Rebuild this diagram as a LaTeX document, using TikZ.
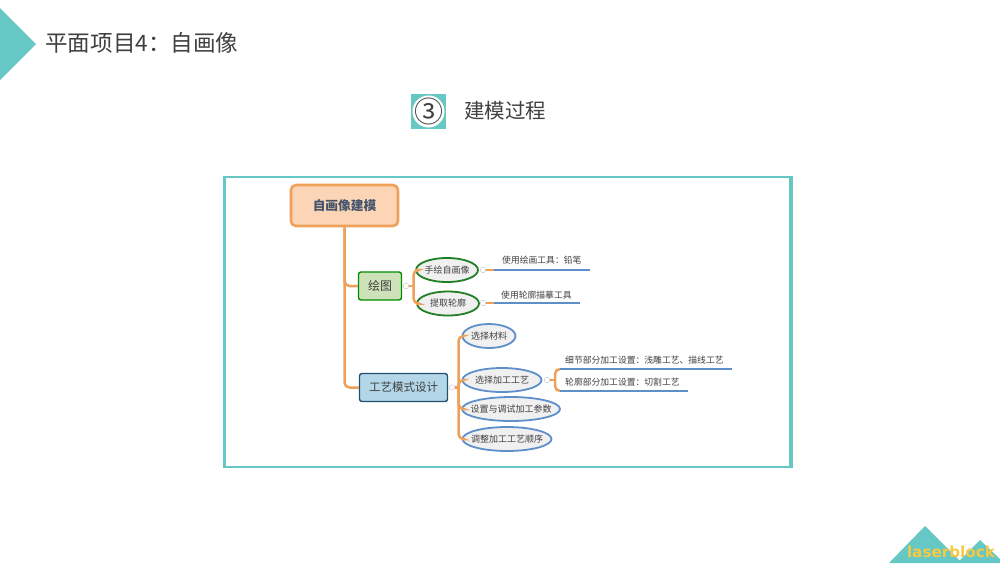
\documentclass[tikz,border=0pt]{standalone}
\usepackage{fontspec}
\setmainfont{Noto Sans CJK SC}
\newfontfamily\logofont{DejaVu Sans}
\usetikzlibrary{shapes.geometric}
\definecolor{tealc}{HTML}{66C8C4}
\definecolor{orangec}{HTML}{EFA05A}
\definecolor{bluec}{HTML}{5F8FCB}
\definecolor{greenc}{HTML}{1E7F24}
\definecolor{inkc}{HTML}{404040}
\definecolor{rootfill}{HTML}{FBD5B5}
\definecolor{rootink}{HTML}{44546A}
\definecolor{drawfill}{HTML}{CDE2B8}
\definecolor{craftfill}{HTML}{B3D7E8}
\definecolor{craftline}{HTML}{24506F}
\definecolor{logoc}{HTML}{F6C945}
\newcommand\ovaltext[1]{\makebox[0pt]{#1}}
\newcommand\widecolon{\symbol{"FF1A}}
\tikzset{
  mapbox/.style={draw,rounded corners=2.5pt,line width=1.4pt,text=inkc,inner sep=0pt},
  oval/.style={draw=bluec,ellipse,fill=black!6,line width=1.8pt,text=inkc,inner sep=0pt,minimum height=24pt,font=\fontsize{9}{9}\selectfont},
  greenoval/.style={oval,draw=greenc},
  leaf/.style={text=inkc,inner sep=0pt,anchor=west,font=\fontsize{8.8}{9}\selectfont},
  fold/.style={circle,draw=black!25,fill=white,line width=.4pt,inner sep=0pt,minimum size=5.5pt},
  branch/.style={orangec,line width=2.5pt,rounded corners=5pt},
  underline/.style={bluec,line width=2pt},
  heading/.style={text=inkc,inner sep=0pt}
}
\begin{document}
\begin{tikzpicture}[x=1pt,y=-1pt]
  \useasboundingbox[fill=white] (0,0) rectangle (1000,563);
  \fill[tealc] (0,8)--(36,44)--(0,80)--cycle;
  \node[heading,anchor=west,font=\fontsize{22.6}{24}\selectfont] (title) at (45,43) {平面项目4\widecolon 自画像};
  \fill[tealc] (411,94) rectangle (446,129);
  \fill[white] (428.5,111.5) circle (16);
  \node[heading,font=\fontsize{29}{29}\selectfont] (num) at (428.5,111) {③};
  \node[heading,anchor=west,font=\fontsize{20.5}{22}\selectfont] (stage) at (464,111) {建模过程};
  \draw[tealc,line width=2pt] (223.5,177) rectangle (791.5,466.5);
  \draw[tealc,line width=3.4pt] (224.5,176)--(224.5,467.5) (790.5,176)--(790.5,467.5);
  % main nodes
  \node[mapbox,draw=orangec,fill=rootfill,line width=2.6pt,rounded corners=5pt,minimum width=107pt,minimum height=41pt,text=rootink,font=\bfseries\fontsize{12.7}{13}\selectfont] (root) at (344.5,205.5) {自画像建模};
  \node[mapbox,draw=green!55!black,fill=drawfill,minimum width=43pt,minimum height=28pt,font=\fontsize{12}{12}\selectfont] (draw) at (380,286) {绘图};
  \node[mapbox,draw=craftline,fill=craftfill,minimum width=88pt,minimum height=28pt,font=\fontsize{11.5}{12}\selectfont] (craft) at (403.5,387.5) {工艺模式设计};
  \node[greenoval,minimum width=62pt] (hand) at (447,270) {\ovaltext{手绘自画像}};
  \node[greenoval,minimum width=62pt] (trace) at (448,303.5) {\ovaltext{提取轮廓}};
  \node[oval,minimum width=53pt] (material) at (489,336) {\ovaltext{选择材料}};
  \node[oval,minimum width=79pt] (process) at (502,380) {\ovaltext{选择加工工艺}};
  \node[oval,minimum width=98pt] (params) at (511,409) {\ovaltext{设置与调试加工参数}};
  \node[oval,minimum width=89pt] (order) at (507,439) {\ovaltext{调整加工工艺顺序}};
  \node[fold] (f1) at (406,286) {};
  \node[fold] (f2) at (483,270) {};
  \node[fold] (f3) at (483,303) {};
  \node[fold] (f4) at (452,387.5) {};
  \node[fold] (f5) at (547,380) {};
  % leaves
  \node[leaf] (tool) at (502,260.5) {使用绘画工具\widecolon 铅笔};
  \node[leaf] (outline) at (501,295) {使用轮廓描摹工具};
  \node[leaf] (detail) at (565,360.5) {细节部分加工设置\widecolon 浅雕工艺、描线工艺};
  \node[leaf] (contour) at (565,382) {轮廓部分加工设置\widecolon 切割工艺};
  \coordinate (j1) at (413.5,286);
  \coordinate (j2) at (458.5,387.5);
  \coordinate (j3) at (555,380);
  \coordinate (s2) at (494,270);
  \coordinate (s3) at (494,303);
  \coordinate (e2) at (590,270);
  \coordinate (e3) at (580,303);
  \coordinate (e5) at (732,369);
  \coordinate (e6) at (688,391);
  % connectors
  \draw[branch] (root.south) |- (draw.west);
  \draw[branch] (root.south) |- (craft.west);
  \draw[branch] (f1.east)--(j1) (f4.east)--(j2) (f5.east)--(j3);
  \draw[branch] (j1) |- (hand.west);
  \draw[branch] (j1) |- (trace.west);
  \draw[branch] (j2) |- (material.west);
  \draw[branch] (j2) |- (process.west);
  \draw[branch] (j2) |- (params.west);
  \draw[branch] (j2) |- (order.west);
  \draw[branch] (f2.east)--(s2);
  \draw[branch] (f3.east)--(s3);
  \draw[underline] (s2)--(e2);
  \draw[underline] (s3)--(e3);
  \draw[branch] (j3) |- ++(5,-11) coordinate (s5);
  \draw[branch] (j3) |- ++(5,11) coordinate (s6);
  \draw[underline] (s5)--(e5);
  \draw[underline] (s6)--(e6);
  % logo
  \fill[tealc] (889,563)--(925,526)--(962,563)--cycle (957,563)--(980,540)--(1000,559)--(1000,563)--cycle;
  \node[inner sep=0pt,text=logoc,font=\logofont\bfseries\fontsize{15.2}{15}\selectfont] (logo) at (951,552) {laserblock};
\end{tikzpicture}
\end{document}
